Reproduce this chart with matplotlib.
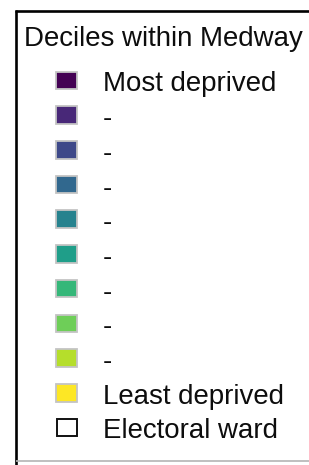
import matplotlib
matplotlib.use("Agg")
import matplotlib.pyplot as plt
from matplotlib.patches import Rectangle

title = "Deciles within Medway"
labels = ["Most deprived", "-", "-", "-", "-", "-", "-", "-", "-", "Least deprived"]
colors = ["#440154", "#482878", "#3e4989", "#31688e", "#26828e",
          "#1f9e89", "#35b779", "#6ece58", "#b5de2b", "#fde725"]
outline_label = "Electoral ward"

W, H = 309, 465
fig = plt.figure(figsize=(W / 100, H / 100), dpi=100)
ax = fig.add_axes([0, 0, 1, 1])
ax.set_xlim(0, W)
ax.set_ylim(H, 0)
ax.axis("off")

font = dict(family=["Liberation Sans", "DejaVu Sans"], fontsize=19.9, color="#0d0d0d")

# frame
ax.plot([16, 16], [10.5, H + 2], color="black", lw=1.9, solid_capstyle="butt")
ax.plot([15, W + 2], [10.8, 10.8], color="black", lw=1.9, solid_capstyle="butt")
ax.plot([16, W + 2], [460.5, 460.5], color="#b4b4b4", lw=1.2, solid_capstyle="butt")

ax.text(24.5, 45.5, title, va="baseline", ha="left", **font)

row0, step = 80.4, 34.7
sq_x, sq_w, sq_h = 56, 21, 17.6
for i, (lab, col) in enumerate(zip(labels, colors)):
    yc = row0 + i * step
    ax.add_patch(Rectangle((sq_x, yc - sq_h / 2), sq_w, sq_h, facecolor=col,
                           edgecolor="#c4c4c4", lw=1.3))
    ax.text(103, yc + 11, lab, va="baseline", ha="left", **font)

yc = row0 + len(labels) * step
ax.add_patch(Rectangle((sq_x + 0.5, yc - 8.5), sq_w - 1, 17, facecolor="white",
                       edgecolor="#111111", lw=1.4))
ax.text(103, yc + 11, outline_label, va="baseline", ha="left", **font)

fig.savefig("out.png", dpi=100)
